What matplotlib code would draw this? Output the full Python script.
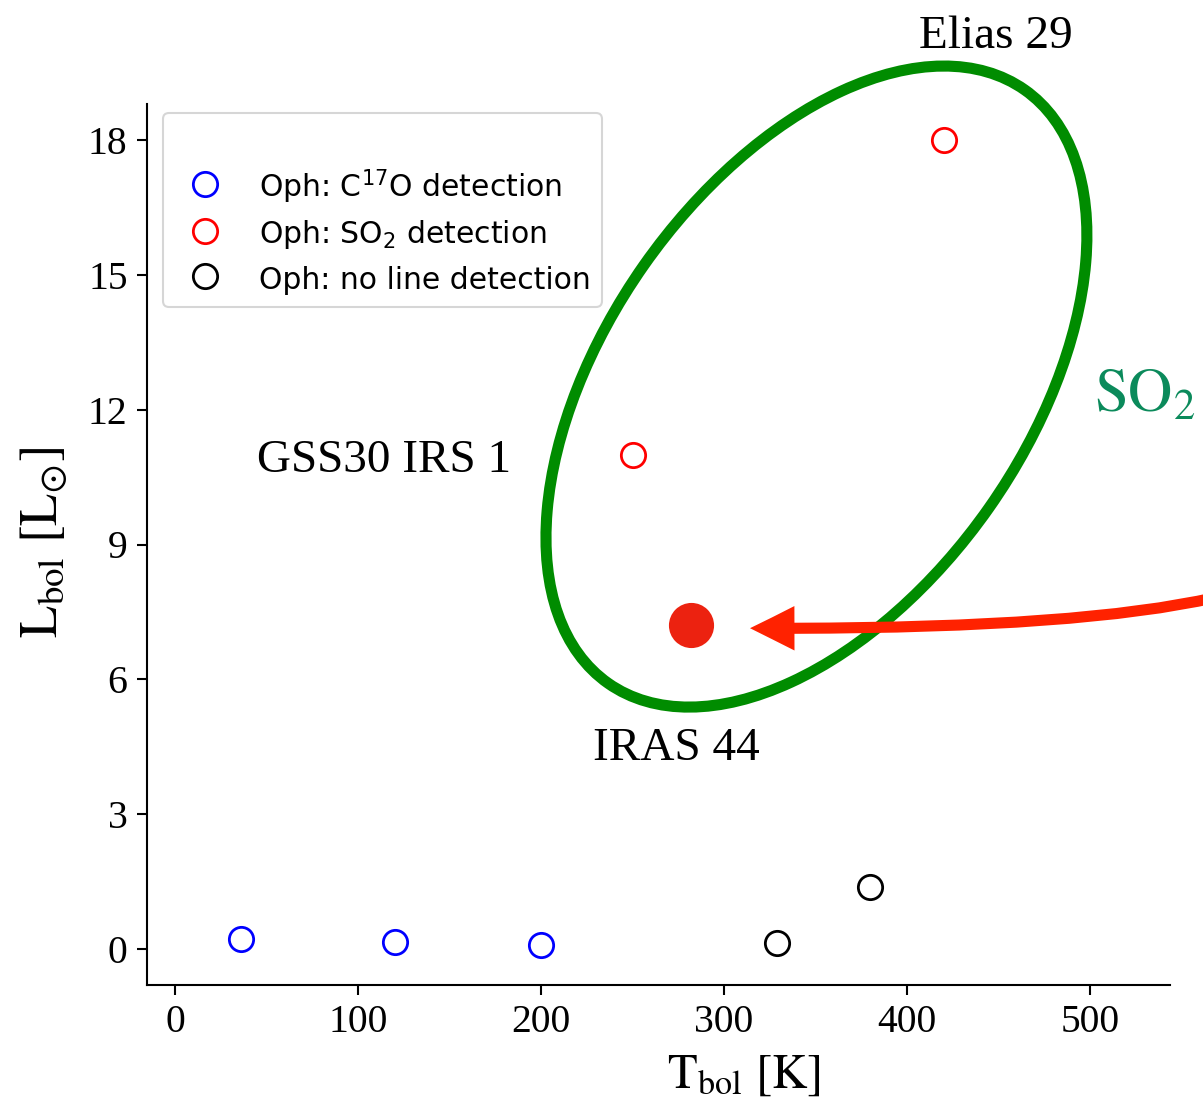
import matplotlib
matplotlib.use("Agg")
import matplotlib.pyplot as plt
from matplotlib.patches import Ellipse, FancyArrowPatch
from matplotlib.path import Path
from matplotlib.transforms import ScaledTranslation

# ---------------- data ----------------
c17o_T = [36, 120, 200]
c17o_L = [0.23, 0.16, 0.10]
so2_T = [250, 420]
so2_L = [11.0, 18.0]
none_T = [329, 380]
none_L = [0.14, 1.38]
iras44_T = [282]
iras44_L = [7.2]
legend_labels = ["Oph: C$\\mathregular{^{17}}$O detection",
                 "Oph: SO$\\mathregular{_2}$ detection",
                 "Oph: no line detection"]
x_ticks = [0, 100, 200, 300, 400, 500]
y_ticks = [0, 3, 6, 9, 12, 15, 18]
source_names = ["Elias 29", "GSS30 IRS 1", "IRAS 44"]

plt.rcParams["font.family"] = ["Liberation Serif", "DejaVu Serif"]
plt.rcParams["mathtext.fontset"] = "stix"

W, H = 1203, 1106
fig = plt.figure(figsize=(W / 100, H / 100), dpi=100)
ax = fig.add_axes([147 / W, (H - 985) / H, (1170 - 147) / W, (985 - 104) / H])

ms, mew = 17.5, 2.0
ax.plot(c17o_T, c17o_L, ls="none", marker="o", ms=ms, mew=mew, mfc="none",
        mec="#0000ff", label=legend_labels[0], zorder=3)
ax.plot(so2_T, so2_L, ls="none", marker="o", ms=ms, mew=mew, mfc="none",
        mec="#ff0000", label=legend_labels[1], zorder=3)
ax.plot(none_T, none_L, ls="none", marker="o", ms=ms, mew=mew, mfc="none",
        mec="#000000", label=legend_labels[2], zorder=3)
ax.plot(iras44_T, iras44_L, ls="none", marker="o", ms=32.5, mew=0,
        mfc="#ec2210", label="_nolegend_", zorder=3)

ax.set_xlim(-15.3, 543.7)
ax.set_ylim(-0.79, 18.79)
ax.set_xticks(x_ticks)
ax.set_yticks(y_ticks)
ax.tick_params(labelsize=28.5, length=7, width=1.5, direction="out", pad=7)
for s in ["top", "right"]:
    ax.spines[s].set_visible(False)
for s in ["left", "bottom"]:
    ax.spines[s].set_linewidth(1.5)

ax.set_xlabel(r"$\mathrm{T_{bol}\ [K]}$", fontsize=35)
ax.xaxis.set_label_coords(0.5836, -0.0775)
ax.set_ylabel(r"$\mathrm{L_{bol}\ [L_{\odot}]}$", fontsize=38)
ax.yaxis.set_label_coords(-0.0753, 0.503)

leg = ax.legend(loc="upper left", bbox_to_anchor=(0.0156, 0.99), borderaxespad=0,
                prop={"family": "DejaVu Sans", "size": 21.5}, title=" ",
                title_fontsize=24, labelspacing=0.4, handleheight=1.24,
                numpoints=1)
leg.get_frame().set_linewidth(1.5)

# green ellipse around SO2 sources (sized in inches, centred in data coords)
ell_trans = fig.dpi_scale_trans + ScaledTranslation(350.5, 12.51, ax.transData)
ell = Ellipse((0, 0), width=7.25, height=4.218, angle=54.95, transform=ell_trans,
              fill=False, edgecolor="#008c00", linewidth=8, clip_on=False, zorder=4)
ax.add_patch(ell)

# red curved arrow pointing at IRAS 44
arrow_path = Path([(568.3, 7.82), (490.0, 7.10), (314.2, 7.14)],
                  [Path.MOVETO, Path.CURVE3, Path.CURVE3])
arr = FancyArrowPatch(path=arrow_path, transform=ax.transData,
                      arrowstyle="simple,head_length=32,head_width=32,tail_width=8",
                      mutation_scale=1, facecolor="#ff2200", edgecolor="none",
                      linewidth=0, clip_on=False, zorder=5)
ax.add_patch(arr)

# source labels
ax.text(448.6, 20.03, source_names[0], fontsize=34, ha="center", va="baseline", clip_on=False)
ax.text(114.2, 10.62, source_names[1], fontsize=34, ha="center", va="baseline")
ax.text(273.8, 4.20, source_names[2], fontsize=34, ha="center", va="baseline")
ax.text(502.2, 11.95, r"$\mathrm{SO_2}$", fontsize=44, color="#0b8a5b",
        ha="left", va="baseline", clip_on=False)

fig.savefig("out.png", dpi=100)
